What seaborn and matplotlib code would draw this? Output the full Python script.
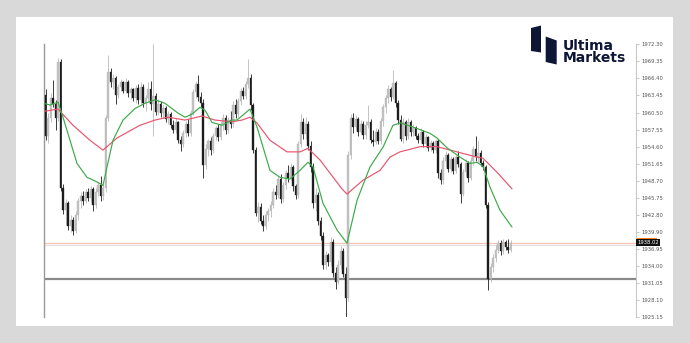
import numpy as np
import pandas as pd
import seaborn as sns
import matplotlib
matplotlib.use('Agg')
import matplotlib.pyplot as plt
from matplotlib.patches import Rectangle, Polygon
from matplotlib.transforms import blended_transform_factory

# ---------------- data ----------------
opens = [1963.5, 1956.5, 1959.5, 1963.0, 1962.0, 1959.5, 1969.3, 1947.5, 1943.6, 1944.8,
 1940.8, 1942.0, 1940.0, 1942.8, 1945.2, 1946.0, 1945.2, 1946.8, 1945.8, 1947.2,
 1944.5, 1946.8, 1948.0, 1946.0, 1947.5, 1959.5, 1967.5, 1965.8, 1966.5, 1963.5,
 1965.0, 1965.8, 1964.2, 1965.8, 1963.8, 1964.5, 1963.0, 1964.8, 1962.6, 1965.0,
 1962.2, 1963.0, 1964.6, 1962.0, 1963.3, 1960.6, 1962.0, 1960.5, 1961.2, 1959.4,
 1960.2, 1958.3, 1957.5, 1958.8, 1955.8, 1955.0, 1957.0, 1958.5, 1957.0, 1960.5,
 1964.0, 1965.5, 1963.2, 1962.2, 1951.5, 1954.2, 1955.5, 1954.0, 1956.5, 1957.8,
 1956.2, 1958.5, 1959.5, 1957.5, 1959.2, 1958.6, 1961.8, 1960.2, 1962.5, 1964.2,
 1963.3, 1965.5, 1966.5, 1961.8, 1954.0, 1943.2, 1944.2, 1941.8, 1940.8, 1942.8,
 1943.4, 1944.6, 1946.8, 1946.2, 1949.0, 1945.5, 1948.0, 1950.0, 1949.2, 1951.0,
 1947.8, 1946.2, 1955.0, 1958.8, 1956.8, 1958.5, 1954.8, 1951.0, 1944.8, 1946.2,
 1941.8, 1939.2, 1934.2, 1935.8, 1934.6, 1938.2, 1932.8, 1931.2, 1934.2, 1936.6,
 1932.6, 1928.4, 1953.2, 1959.6, 1958.0, 1959.4, 1957.2, 1958.6, 1956.6, 1958.4,
 1958.9, 1955.8, 1955.4, 1957.2, 1955.5, 1959.0, 1961.5, 1963.0, 1964.5, 1963.2,
 1965.6, 1962.2, 1959.2, 1956.0, 1958.8, 1956.5, 1958.8, 1957.2, 1957.8, 1956.5,
 1955.7, 1957.2, 1955.0, 1956.2, 1954.3, 1955.2, 1954.0, 1955.6, 1950.0, 1948.8,
 1952.2, 1953.2, 1950.8, 1952.5, 1950.4, 1952.8, 1951.6, 1946.5, 1950.2, 1951.8,
 1949.2, 1952.2, 1954.2, 1952.8, 1953.5, 1951.8, 1951.1, 1944.6, 1931.8, 1933.8,
 1935.3, 1936.8, 1938.0, 1936.5, 1938.2, 1937.3, 1936.8]

highs = [1964.5, 1960.5, 1963.8, 1966.1, 1962.6, 1969.9, 1969.8, 1948.2, 1945.5, 1945.2,
 1942.8, 1942.5, 1943.5, 1945.8, 1946.8, 1947.0, 1947.3, 1947.5, 1947.8, 1947.6,
 1947.5, 1948.5, 1949.5, 1948.2, 1960.0, 1970.5, 1968.2, 1967.2, 1966.8, 1965.5,
 1966.3, 1966.0, 1966.5, 1966.2, 1965.0, 1964.8, 1965.2, 1965.5, 1965.8, 1965.5,
 1963.5, 1965.8, 1966.0, 1972.4, 1963.8, 1962.8, 1962.5, 1961.8, 1961.6, 1960.8,
 1960.6, 1959.2, 1959.5, 1959.0, 1956.5, 1957.5, 1959.0, 1959.3, 1961.0, 1964.5,
 1966.0, 1967.0, 1964.0, 1962.8, 1955.0, 1956.0, 1956.2, 1957.0, 1958.2, 1958.5,
 1959.0, 1960.2, 1960.0, 1959.8, 1960.8, 1962.5, 1962.8, 1963.0, 1964.8, 1965.0,
 1966.0, 1969.8, 1967.2, 1962.2, 1954.5, 1945.0, 1944.8, 1942.8, 1943.5, 1944.0,
 1945.2, 1947.5, 1948.0, 1949.5, 1949.8, 1948.5, 1950.5, 1951.5, 1951.8, 1951.5,
 1948.2, 1955.5, 1960.2, 1959.6, 1959.8, 1959.0, 1955.5, 1951.8, 1947.5, 1946.8,
 1942.5, 1939.8, 1936.5, 1936.2, 1939.0, 1938.6, 1933.8, 1935.0, 1937.5, 1937.0,
 1933.8, 1953.8, 1960.2, 1960.5, 1960.0, 1959.8, 1959.2, 1959.0, 1959.0, 1961.8,
 1959.3, 1957.5, 1957.8, 1957.6, 1959.5, 1962.0, 1963.5, 1965.2, 1965.0, 1967.9,
 1966.0, 1962.6, 1960.0, 1959.5, 1959.2, 1959.5, 1959.2, 1958.5, 1958.2, 1957.0,
 1957.8, 1957.5, 1956.8, 1956.5, 1955.8, 1955.6, 1956.0, 1956.0, 1950.8, 1952.8,
 1953.8, 1953.5, 1953.0, 1952.8, 1953.2, 1953.8, 1952.0, 1950.8, 1952.5, 1952.2,
 1952.8, 1954.8, 1956.5, 1955.5, 1954.0, 1952.3, 1951.5, 1945.0, 1934.5, 1936.0,
 1937.6, 1938.4, 1938.4, 1938.6, 1938.5, 1938.6, 1938.5]

lows = [1955.8, 1955.2, 1958.8, 1961.5, 1957.5, 1959.0, 1947.0, 1943.0, 1941.0, 1940.2,
 1939.8, 1939.4, 1939.6, 1942.0, 1944.0, 1944.5, 1944.8, 1945.2, 1945.0, 1943.5,
 1944.0, 1946.0, 1945.2, 1945.3, 1946.8, 1959.0, 1965.0, 1964.5, 1962.0, 1963.0,
 1964.2, 1963.8, 1963.8, 1963.2, 1962.8, 1962.5, 1962.2, 1962.0, 1962.0, 1961.5,
 1960.8, 1962.5, 1961.0, 1956.4, 1960.0, 1960.0, 1959.8, 1959.5, 1958.8, 1958.5,
 1957.8, 1957.0, 1957.0, 1955.3, 1953.9, 1954.5, 1956.2, 1956.5, 1956.5, 1960.0,
 1963.0, 1962.5, 1961.5, 1949.2, 1950.8, 1953.0, 1953.2, 1953.5, 1955.8, 1955.5,
 1955.8, 1957.5, 1956.8, 1957.0, 1957.8, 1958.0, 1959.5, 1959.8, 1961.8, 1962.8,
 1962.8, 1964.8, 1961.0, 1953.5, 1942.6, 1941.5, 1941.2, 1940.1, 1940.4, 1941.8,
 1942.5, 1944.0, 1945.5, 1945.8, 1944.8, 1945.0, 1947.2, 1948.5, 1948.8, 1947.0,
 1945.5, 1945.8, 1954.5, 1956.0, 1956.0, 1954.0, 1950.2, 1944.0, 1943.5, 1941.0,
 1938.5, 1933.5, 1933.5, 1934.0, 1934.0, 1932.0, 1930.0, 1930.8, 1933.5, 1932.0,
 1925.2, 1928.0, 1952.5, 1957.0, 1957.5, 1956.5, 1956.8, 1956.0, 1956.0, 1957.8,
 1955.2, 1954.8, 1955.0, 1955.0, 1955.0, 1958.2, 1960.5, 1962.2, 1962.5, 1962.8,
 1961.5, 1958.5, 1955.5, 1955.2, 1955.8, 1956.0, 1956.5, 1956.5, 1956.0, 1955.2,
 1955.2, 1954.5, 1954.6, 1953.8, 1953.8, 1953.5, 1953.5, 1949.2, 1948.2, 1948.2,
 1951.0, 1950.2, 1950.2, 1949.8, 1950.0, 1951.0, 1944.9, 1946.0, 1949.5, 1948.5,
 1948.8, 1951.5, 1952.2, 1952.0, 1951.2, 1950.5, 1944.0, 1929.8, 1931.2, 1933.0,
 1934.6, 1936.2, 1935.8, 1936.0, 1936.8, 1936.2, 1936.4]

closes = [1956.5, 1959.5, 1963.0, 1962.0, 1959.5, 1969.3, 1947.5, 1943.6, 1944.8, 1940.8,
 1942.0, 1940.0, 1942.8, 1945.2, 1946.0, 1945.2, 1946.8, 1945.8, 1947.2, 1944.5,
 1946.8, 1948.0, 1946.0, 1947.5, 1959.5, 1967.5, 1965.8, 1966.5, 1963.5, 1965.0,
 1965.8, 1964.2, 1965.8, 1963.8, 1964.5, 1963.0, 1964.8, 1962.6, 1965.0, 1962.2,
 1963.0, 1964.6, 1962.0, 1963.3, 1960.6, 1962.0, 1960.5, 1961.2, 1959.4, 1960.2,
 1958.3, 1957.5, 1958.8, 1955.8, 1955.0, 1957.0, 1958.5, 1957.0, 1960.5, 1964.0,
 1965.5, 1963.2, 1962.2, 1951.5, 1954.2, 1955.5, 1954.0, 1956.5, 1957.8, 1956.2,
 1958.5, 1959.5, 1957.5, 1959.2, 1958.6, 1961.8, 1960.2, 1962.5, 1964.2, 1963.3,
 1965.5, 1966.5, 1961.8, 1954.0, 1943.2, 1944.2, 1941.8, 1940.8, 1942.8, 1943.4,
 1944.6, 1946.8, 1946.2, 1949.0, 1945.5, 1948.0, 1950.0, 1949.2, 1951.0, 1947.8,
 1946.2, 1955.0, 1958.8, 1956.8, 1958.5, 1954.8, 1951.0, 1944.8, 1946.2, 1941.8,
 1939.2, 1934.2, 1935.8, 1934.6, 1938.2, 1932.8, 1931.2, 1934.2, 1936.6, 1932.6,
 1928.4, 1953.2, 1959.6, 1958.0, 1959.4, 1957.2, 1958.6, 1956.6, 1958.4, 1958.9,
 1955.8, 1955.4, 1957.2, 1955.5, 1959.0, 1961.5, 1963.0, 1964.5, 1963.2, 1965.6,
 1962.2, 1959.2, 1956.0, 1958.8, 1956.5, 1958.8, 1957.2, 1957.8, 1956.5, 1955.7,
 1957.2, 1955.0, 1956.2, 1954.3, 1955.2, 1954.0, 1955.6, 1950.0, 1948.8, 1952.2,
 1953.2, 1950.8, 1952.5, 1950.4, 1952.8, 1951.6, 1946.5, 1950.2, 1951.8, 1949.2,
 1952.2, 1954.2, 1952.8, 1953.5, 1951.8, 1951.1, 1944.6, 1931.8, 1933.8, 1935.3,
 1936.8, 1938.0, 1936.5, 1938.2, 1937.3, 1936.8, 1938.02]

# fast moving average (green) read at points along the bar index
ma_fast_x = [-0.6, 1.8, 5.0, 7.0, 9.8, 12.6, 16.6, 20.6, 23.0, 24.6, 27.0, 31.0, 35.8,
             39.8, 43.8, 47.8, 53.0, 55.8, 58.6, 61.8, 63.8, 66.6, 70.6, 74.6, 76.6,
             81.8, 84.6, 89.8, 93.8, 97.8, 101.8, 105.0, 107.0, 111.0, 116.6, 120.6,
             124.6, 129.8, 135.0, 139.0, 142.0, 147.0, 153.8, 156.6, 160.6, 165.8,
             169.8, 172.6, 175.0, 177.8, 181.8, 186.6]
ma_fast_y = [1962.1, 1961.8, 1962.3, 1959.7, 1955.7, 1951.7, 1949.3, 1948.5, 1947.9,
             1951.1, 1955.7, 1959.2, 1961.2, 1962.1, 1962.7, 1962.1, 1960.4, 1959.7,
             1960.2, 1961.4, 1960.9, 1958.8, 1958.3, 1959.2, 1959.2, 1961.1, 1958.0,
             1950.5, 1949.3, 1949.0, 1950.5, 1951.9, 1951.1, 1944.8, 1940.2, 1937.9,
             1945.3, 1951.1, 1954.5, 1958.3, 1958.7, 1958.0, 1956.9, 1956.1, 1954.4,
             1952.8, 1951.7, 1951.9, 1951.2, 1947.6, 1943.6, 1940.7]

# slow moving average (red)
ma_slow_x = [-0.6, 5.0, 11.0, 17.8, 23.0, 28.6, 37.8, 43.8, 49.0, 55.8, 62.6, 67.8, 74.6,
             78.6, 81.8, 84.6, 89.8, 96.6, 101.8, 105.0, 109.8, 118.6, 120.6, 127.0,
             133.8, 137.8, 141.8, 149.8, 156.6, 164.6, 172.6, 175.0, 181.0, 186.6]
ma_slow_y = [1960.7, 1961.1, 1958.3, 1955.7, 1954.0, 1956.1, 1958.3, 1959.2, 1959.7,
             1959.2, 1959.9, 1959.2, 1958.9, 1959.2, 1959.7, 1958.7, 1955.7, 1953.7,
             1953.7, 1954.3, 1952.3, 1947.3, 1946.4, 1948.8, 1950.5, 1952.8, 1953.7,
             1954.6, 1954.6, 1953.7, 1952.8, 1952.6, 1950.0, 1947.3]

tick_values = [1972.30, 1969.35, 1966.40, 1963.45, 1960.50, 1957.55, 1954.60, 1951.65,
               1948.70, 1945.75, 1942.80, 1939.90, 1936.95, 1934.00, 1931.05, 1928.10,
               1925.15]
tick_labels = ["1972.30", "1969.35", "1966.40", "1963.45", "1960.50", "1957.55",
               "1954.60", "1951.65", "1948.70", "1945.75", "1942.80", "1939.90",
               "1936.95", "1934.00", "1931.05", "1928.10", "1925.15"]

last_price = 1938.02
ask_line = 1937.6
support_level = 1931.75
last_label = "1938.02"
brand_top = "Ultima"
brand_bottom = "Markets"

# ---------------- figure ----------------
sns.set_theme(style="white")
plt.rcParams['font.family'] = ['DejaVu Sans']

W, H = 690, 343
fig = plt.figure(figsize=(W / 100, H / 100), dpi=100)
fig.patch.set_facecolor('#d9d9d9')
fig.patches.append(Rectangle((16 / W, 1 - 326 / H), (673 - 16) / W, (326 - 17) / H,
                             transform=fig.transFigure, facecolor='white',
                             edgecolor='none', zorder=-5))

ax = fig.add_axes([44 / W, 1 - 317 / H, (636 - 44) / W, (317 - 44) / H])
ax.set_facecolor('none')

df = pd.DataFrame({'o': opens, 'h': highs, 'l': lows, 'c': closes})
df['x'] = np.arange(len(df))
up = df['c'] >= df['o']
wick_col = np.where(up, '#b9b9b9', '#1c1c1c')
body_col = np.where(up, '#c4c4c4', '#1c1c1c')
edge_col = np.where(up, '#adadad', '#1c1c1c')

ax.vlines(df['x'], df['l'], df['h'], colors=wick_col, linewidth=0.6, zorder=2)
body_bottom = np.minimum(df['o'], df['c'])
body_h = np.maximum(np.abs(df['c'] - df['o']), 0.15)
ax.bar(df['x'], body_h, bottom=body_bottom, width=0.74, color=body_col,
       edgecolor=edge_col, linewidth=0.25, zorder=3)

sns.lineplot(x=ma_slow_x, y=ma_slow_y, ax=ax, color='#e8546e', linewidth=0.85,
             sort=False, zorder=4)
sns.lineplot(x=ma_fast_x, y=ma_fast_y, ax=ax, color='#3daa48', linewidth=0.85,
             sort=False, zorder=4)

ax.axhline(last_price, color='#f6c4b4', linewidth=0.9, zorder=1)
ax.axhline(ask_line, color='#e2e2e2', linewidth=0.9, zorder=1)
ax.axhline(support_level, color='#8a8a8a', linewidth=1.6, zorder=1)

ax.set_xlim(-0.6, 236.2)
ax.set_ylim(1925.15, 1972.35)
ax.set_xticks([])
ax.yaxis.tick_right()
ax.set_yticks(tick_values)
ax.set_yticklabels(tick_labels)
ax.tick_params(axis='y', which='both', right=True, length=2, width=0.5,
               color='#b0b0b0', labelsize=3.8, labelcolor='#555555', pad=2)
for s in ['top', 'bottom']:
    ax.spines[s].set_visible(False)
ax.spines['left'].set_visible(True)
ax.spines['left'].set_color('#9a9a9a')
ax.spines['left'].set_linewidth(1.0)
ax.spines['right'].set_visible(True)
ax.spines['right'].set_color('#c8c8c8')
ax.spines['right'].set_linewidth(0.8)
ax.grid(False)

# current price tag
trans = blended_transform_factory(ax.transAxes, ax.transData)
ax.text(1.0025, last_price, last_label, transform=trans, fontsize=3.8, color='white',
        ha='left', va='center', zorder=6, clip_on=False,
        bbox=dict(facecolor='#111111', edgecolor='none', pad=0.9))
fig.patches.append(Rectangle((637 / W, 1 - 239.3 / H), 20 / W, 1.3 / H,
                             transform=fig.transFigure, facecolor='#ff7a1a',
                             edgecolor='none', zorder=7))

# logo
def P(x, y):
    return (x / W, 1 - y / H)

navy = '#0e1636'
fig.patches.append(Polygon([P(531, 28), P(541, 25.5), P(541, 52.5), P(531, 51)],
                           closed=True, transform=fig.transFigure, facecolor=navy,
                           edgecolor='none', zorder=8))
fig.patches.append(Polygon([P(545.7, 36.5), P(556.7, 40.5), P(556.7, 64.5), P(545.7, 62)],
                           closed=True, transform=fig.transFigure, facecolor=navy,
                           edgecolor='none', zorder=8))
fig.text(563 / W, 1 - 49.5 / H, brand_top, fontsize=10, fontweight='bold', color=navy,
         ha='left', va='baseline', zorder=8)
fig.text(563 / W, 1 - 62.5 / H, brand_bottom, fontsize=10, fontweight='bold', color=navy,
         ha='left', va='baseline', zorder=8)

fig.savefig('out.png', dpi=100, facecolor=fig.get_facecolor())
